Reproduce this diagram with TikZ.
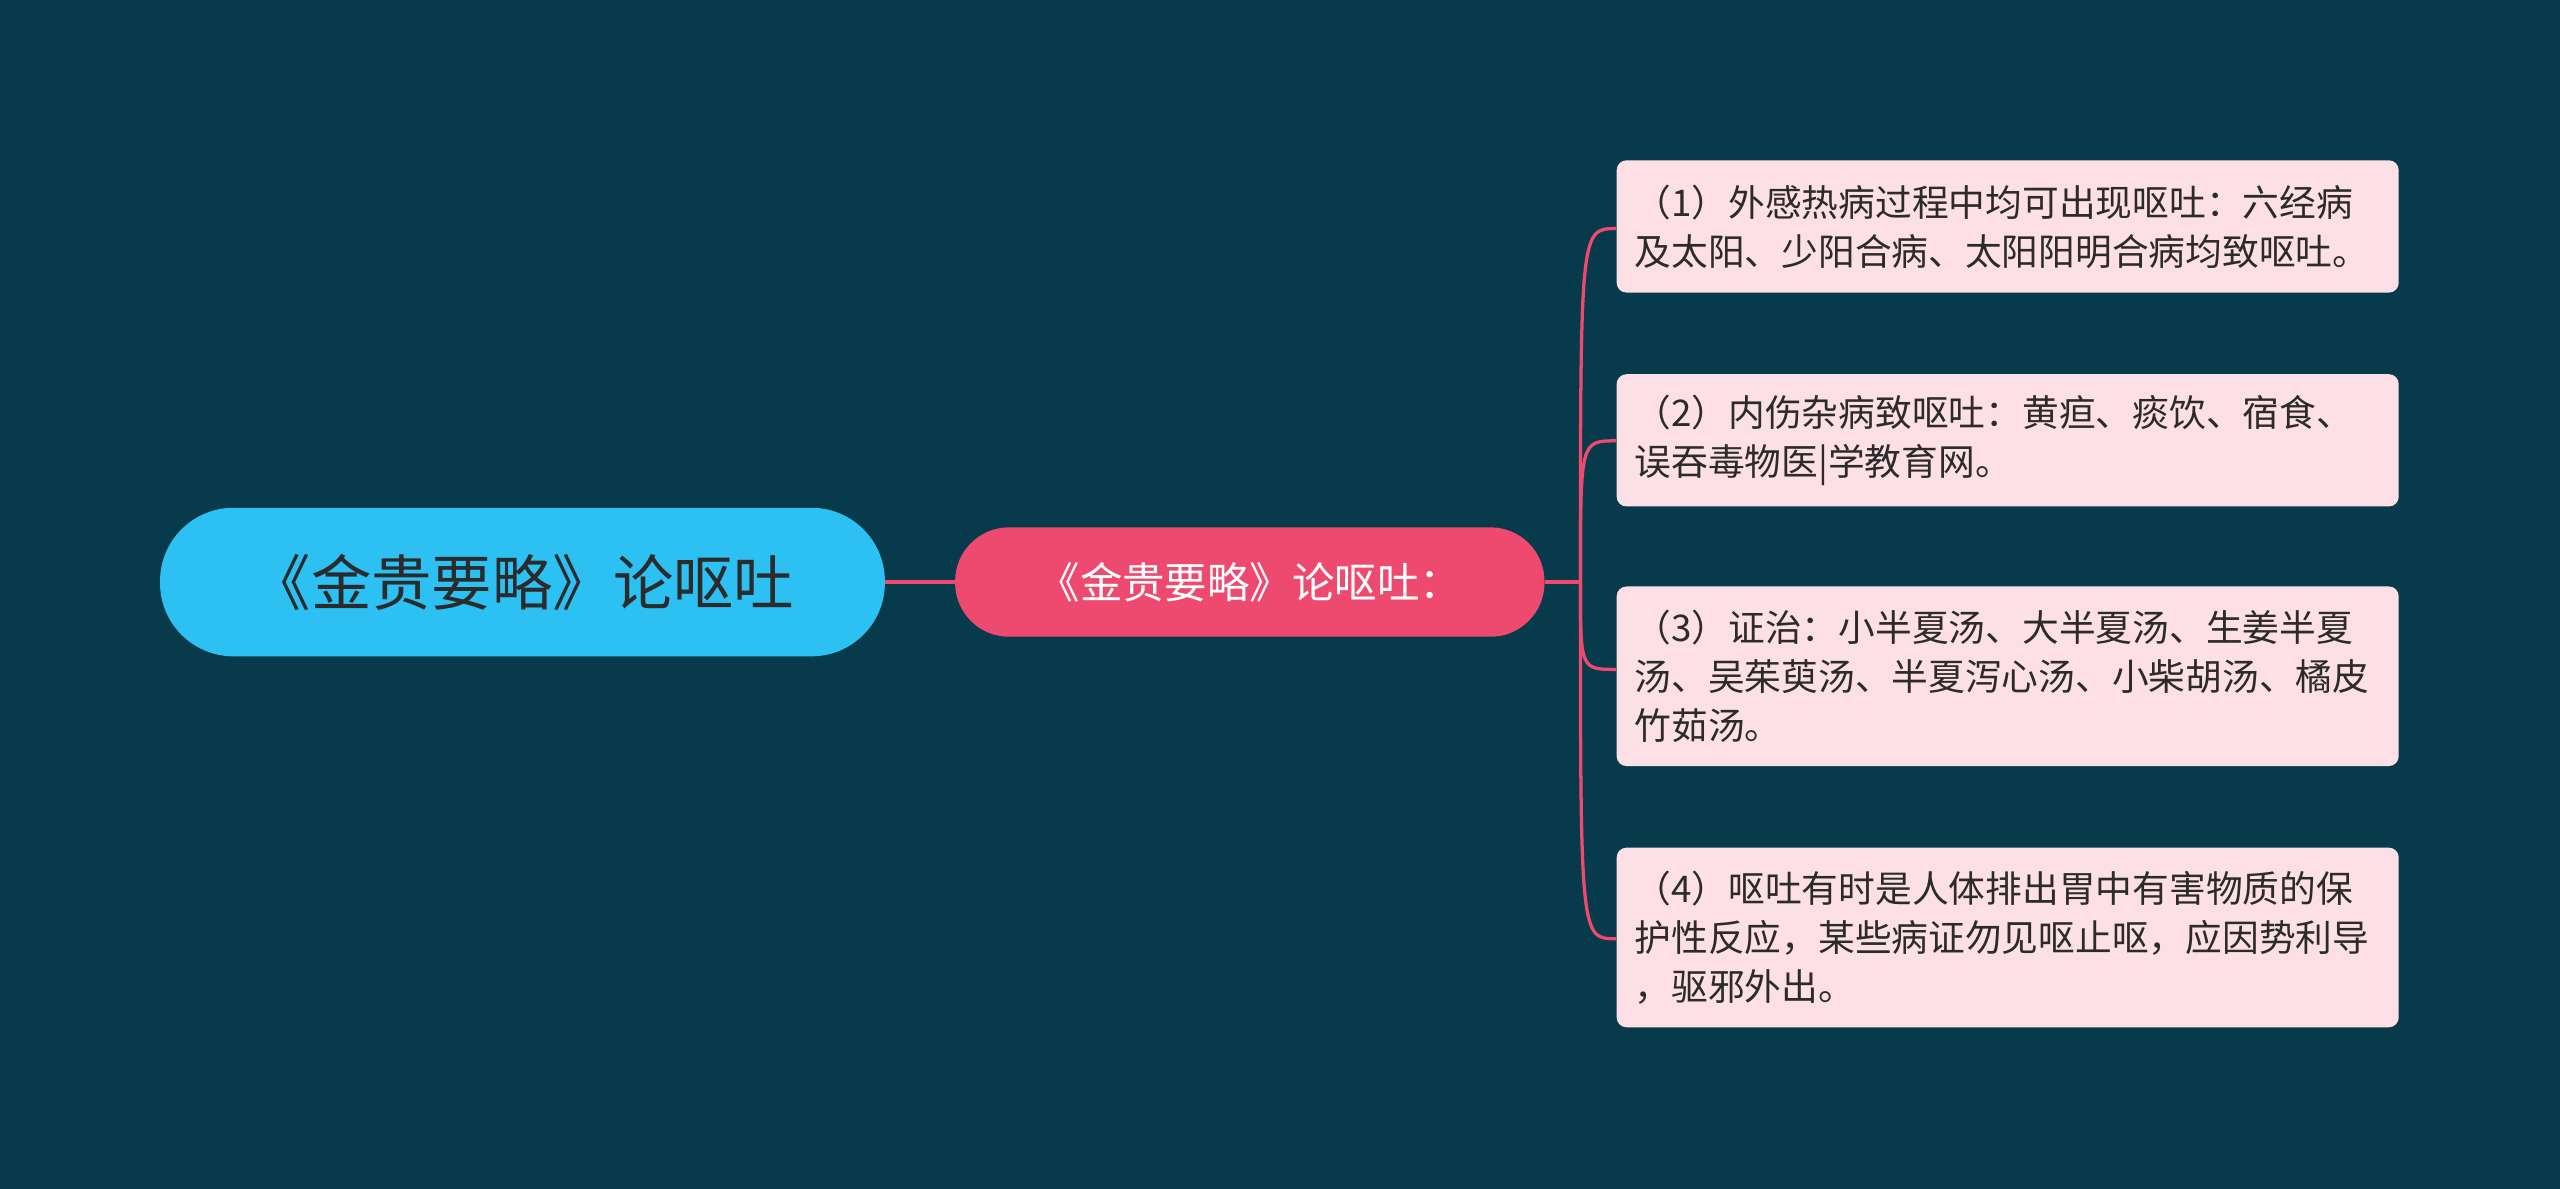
\documentclass[tikz,border=0pt]{standalone}
\usepackage{fontspec}
\newfontfamily\cjk{Noto Sans CJK SC}
\definecolor{bg}{HTML}{073A4B}
\definecolor{rootc}{HTML}{2DC0F2}
\definecolor{midc}{HTML}{EE4A70}
\definecolor{leafc}{HTML}{FDE0E5}
\definecolor{txt}{HTML}{2B2B2B}
\begin{document}
\begin{tikzpicture}[x=1pt,y=-1pt,
 leaf/.style={fill=leafc,rounded corners=6pt,minimum width=479pt,anchor=north west,inner xsep=11pt,inner ysep=0pt,text=txt,font=\cjk\fontsize{22.5}{30}\selectfont,align=left},
 conn/.style={draw=midc,line width=2pt}]
\fill[bg] (0,0) rectangle (1568,728);
\useasboundingbox (0,0) rectangle (1568,728);
\node[fill=rootc,rounded corners=45pt,minimum width=444pt,minimum height=91pt,text=txt,font=\cjk\fontsize{37}{42}\selectfont] (root) at (320,356.5) {《金贵要略》论呕吐};
\node[fill=midc,rounded corners=33pt,minimum width=361pt,minimum height=67pt,text=white,font=\cjk\fontsize{26}{30}\selectfont] (mid) at (765.5,356.5) {《金贵要略》论呕吐：};
\node[leaf,minimum height=81pt] (l1) at (990,98) {\parbox{457pt}{（1）外感热病过程中均可出现呕吐：六经病\\及太阳、少阳合病、太阳阳明合病均致呕吐。}};
\node[leaf,minimum height=81pt] (l2) at (990,229) {\parbox{457pt}{（2）内伤杂病致呕吐：黄疸、痰饮、宿食、\\误吞毒物医|学教育网。}};
\node[leaf,minimum height=110pt] (l3) at (990,359) {\parbox{457pt}{（3）证治：小半夏汤、大半夏汤、生姜半夏\\汤、吴茱萸汤、半夏泻心汤、小柴胡汤、橘皮\\竹茹汤。}};
\node[leaf,minimum height=110pt] (l4) at (990,519) {\parbox{457pt}{（4）呕吐有时是人体排出胃中有害物质的保\\护性反应，某些病证勿见呕止呕，应因势利导\\，驱邪外出。}};
\coordinate (j) at (968,356.5);
\draw[conn] (root.east) -- (mid.west);
\draw[conn] (mid.east) -- (j);
\foreach \l/\y in {l1/140,l2/270,l3/410,l4/575}{
 \draw[conn] (j) .. controls (968,\y) and (968,\y) .. (990,\y);
}
\end{tikzpicture}
\end{document}
